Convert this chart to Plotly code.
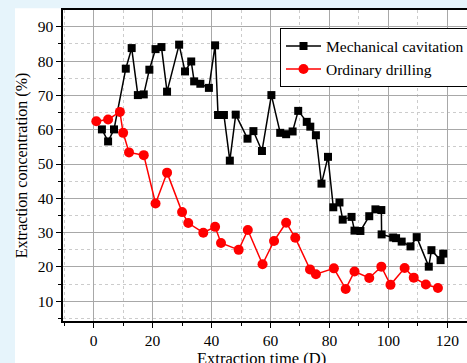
import plotly.graph_objects as go

# Mechanical cavitation
mc_x = [2.8, 4.9, 6.9, 10.9, 12.9, 15.0, 17.0, 18.9, 21.0, 23.0, 24.9, 29.0, 31.0, 33.1,
        34.1, 36.2, 39.1, 41.2, 42.2, 44.2, 46.2, 48.2, 52.2, 54.2, 57.1, 60.3, 63.3,
        65.3, 67.5, 69.4, 72.3, 73.5, 75.4, 77.3, 79.5, 81.3, 83.4, 84.5, 87.5, 88.5,
        90.5, 93.5, 95.6, 97.6, 97.7, 101.6, 102.6, 104.5, 107.5, 109.6, 113.7, 114.6,
        117.7, 118.6]
mc_y = [60.1, 56.6, 60.1, 77.8, 83.8, 70.1, 70.3, 77.5, 83.5, 84.1, 71.1, 84.8, 77.0, 79.9,
        74.1, 73.4, 72.2, 84.6, 64.3, 64.3, 51.0, 64.4, 57.4, 59.6, 53.8, 70.1, 59.1,
        58.7, 59.5, 65.5, 62.3, 60.9, 58.4, 44.3, 52.1, 37.4, 38.8, 33.8, 34.6, 30.6,
        30.5, 34.8, 36.8, 36.6, 29.5, 28.6, 28.4, 27.4, 26.0, 28.7, 20.1, 24.9,
        22.0, 23.9]

# Ordinary drilling
od_x = [0.9, 4.9, 8.9, 10.0, 12.0, 17.0, 21.0, 24.9, 30.0, 32.1, 37.2, 41.2, 43.2, 49.2,
        52.3, 57.3, 61.2, 65.3, 68.4, 73.4, 75.4, 81.5, 85.5, 88.5, 93.5, 97.6, 100.7,
        105.5, 108.6, 112.7, 116.8]
od_y = [62.5, 63.0, 65.2, 59.1, 53.4, 52.6, 38.5, 47.5, 36.0, 32.8, 30.0, 31.7, 27.0, 25.0,
        30.8, 20.8, 27.6, 32.9, 28.5, 19.3, 17.9, 19.6, 13.6, 18.7, 16.8, 20.1, 14.8,
        19.7, 16.9, 14.9, 13.9]

x_ticks = [0, 20, 40, 60, 80, 100, 120]
y_ticks = [10, 20, 30, 40, 50, 60, 70, 80, 90]

FONT = "Liberation Serif, Times New Roman, serif"

W, H = 495, 363
L, R, T, B = 63, 0, 10, 42
PW = W - L - R
PH = H - T - B

fig = go.Figure()
fig.add_trace(go.Scatter(x=mc_x, y=mc_y, mode="lines+markers", name="Mechanical cavitation",
                         line=dict(color="black", width=1.5),
                         marker=dict(symbol="square", size=8, color="black")))
fig.add_trace(go.Scatter(x=od_x, y=od_y, mode="lines+markers", name="Ordinary drilling",
                         line=dict(color="red", width=1.5),
                         marker=dict(symbol="circle", size=10, color="red")))

# white panel over the light blue page (blue strip on left and top)
fig.add_shape(type="rect", xref="paper", yref="paper",
              x0=(15 - L) / PW, x1=1.2, y0=-0.3, y1=1 + (T - 8.3) / PH,
              fillcolor="white", line=dict(width=0), layer="below")

axis_common = dict(
    showline=True, linecolor="black", linewidth=1.5,
    ticks="outside", ticklen=5, tickwidth=1.2, tickcolor="black",
    showgrid=True, gridcolor="#a8a8a8", gridwidth=1.2,
    zeroline=False, automargin=False,
    tickfont=dict(family=FONT, size=15.5, color="black"),
)

x_right = -10.4 + PW / 2.9475

fig.update_layout(
    width=W, height=H,
    margin=dict(l=L, r=R, t=T, b=B),
    paper_bgcolor="#e6f4fb",
    plot_bgcolor="white",
    font=dict(family=FONT, color="black"),
    xaxis=dict(range=[-10.4, x_right], tickvals=x_ticks, mirror=True,
               minor=dict(dtick=10, tick0=10, ticklen=3, tickcolor="black", showgrid=True,
                          gridcolor="#cccccc", griddash="dot", gridwidth=1),
               **axis_common),
    yaxis=dict(range=[4.26, 94.9], tickvals=y_ticks, mirror=False,
               minor=dict(dtick=5, tick0=5, ticklen=3, tickcolor="black", showgrid=True,
                          gridcolor="#cccccc", griddash="dot", gridwidth=1),
               title=dict(text="Extraction concentration (%)", font=dict(family=FONT, size=16), standoff=6),
               **axis_common),
    legend=dict(x=(280 - L) / PW, y=1 - (28.3 - T) / PH, xanchor="left", yanchor="top",
                bgcolor="white", bordercolor="black", borderwidth=1,
                font=dict(family=FONT, size=15.5, color="black"),
                itemwidth=35, tracegroupgap=0),
    showlegend=True,
    annotations=[dict(text="Extraction time (D)", xref="paper", yref="paper",
                      x=(261 - L) / PW, y=-(347 - (T + PH)) / PH,
                      xanchor="center", yanchor="top", showarrow=False,
                      font=dict(family=FONT, size=16.5, color="black"))],
)

fig.write_html("out.html",
               post_script="document.documentElement.style.overflow='hidden';"
                           "document.body.style.overflow='hidden';")
